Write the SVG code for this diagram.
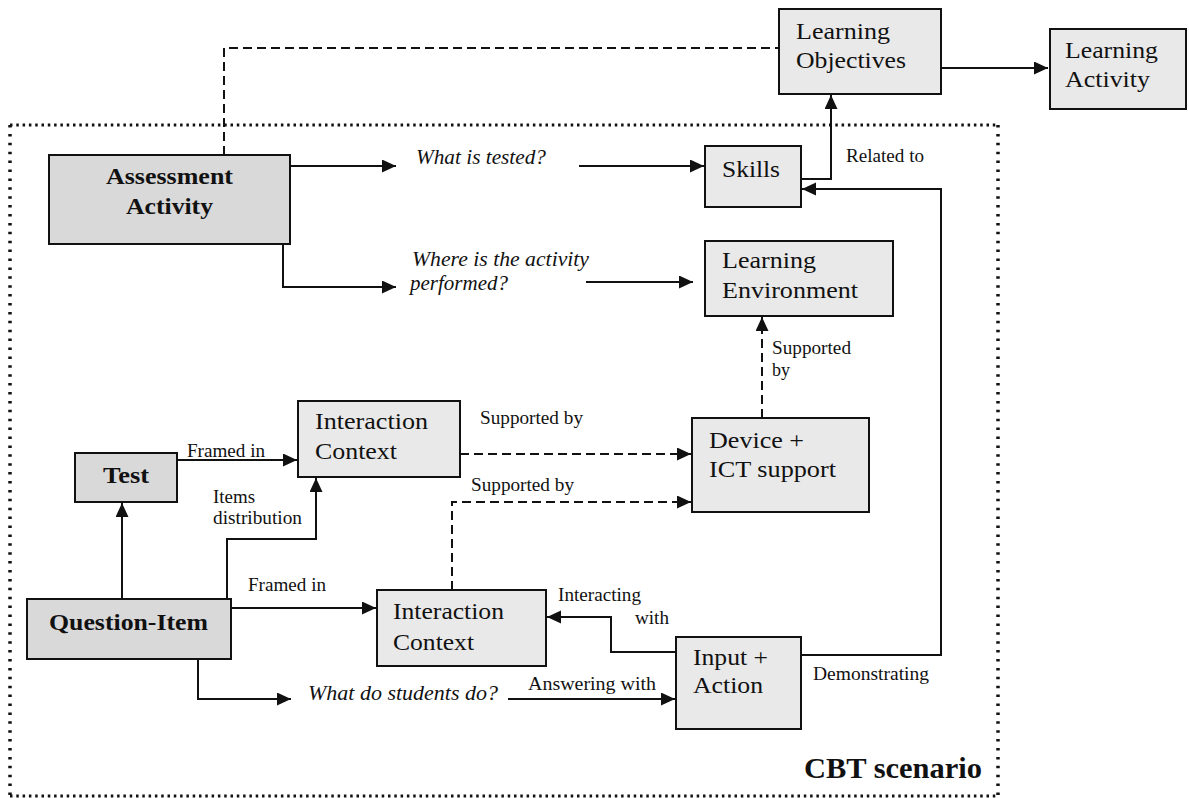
<svg xmlns="http://www.w3.org/2000/svg" width="1189" height="798" viewBox="0 0 1189 798">
<style>
.box{stroke:#111;stroke-width:2}
.dark{fill:#d9d9d9}
.light{fill:#e9e9e9}
.t{font-family:"Liberation Serif","Times New Roman",serif;fill:#111}
.lb{font-size:24px}
.bb{font-size:24px;font-weight:bold}
.sm{font-size:18px}
.it{font-size:21px;font-style:italic}
.c{fill:none;stroke:#111;stroke-width:2}
.d{stroke-dasharray:9 5}
.dotH{fill:none;stroke:#111;stroke-width:3;stroke-dasharray:2.5 3.8}
.dotV{fill:none;stroke:#111;stroke-width:3.5;stroke-dasharray:2.5 6.4}
</style>
<defs>
<marker id="ah" markerUnits="userSpaceOnUse" markerWidth="15" markerHeight="14" refX="14" refY="6.5" orient="auto">
<path d="M0,0 L14,6.5 L0,13 Z" fill="#111"/>
</marker>
</defs>
<rect width="1189" height="798" fill="#fff"/>
<g id="frame">
<line class="dotH" x1="10" y1="125" x2="998" y2="125"/>
<line class="dotH" x1="10" y1="796" x2="998" y2="796"/>
<line class="dotV" x1="10" y1="125" x2="10" y2="796"/>
<line class="dotV" x1="998" y1="125" x2="998" y2="796"/>
<text class="t" x="804" y="778" font-size="30" font-weight="bold" textLength="178" lengthAdjust="spacingAndGlyphs">CBT scenario</text>
</g>
<g id="connectors">
<polyline class="c d" points="224,155 224,48 779,48"/>
<line class="c" x1="941" y1="68" x2="1048" y2="68" marker-end="url(#ah)"/>
<line class="c" x1="290" y1="166" x2="396" y2="166" marker-end="url(#ah)"/>
<line class="c" x1="579" y1="166" x2="704" y2="166" marker-end="url(#ah)"/>
<polyline class="c" points="801,179 831,179 831,95" marker-end="url(#ah)"/>
<polyline class="c" points="801,655 941,655 941,189 802,189" marker-end="url(#ah)"/>
<polyline class="c" points="283,244 283,287 396,287" marker-end="url(#ah)"/>
<line class="c" x1="586" y1="282" x2="693" y2="282" marker-end="url(#ah)"/>
<line class="c d" x1="762" y1="418" x2="762" y2="317" marker-end="url(#ah)"/>
<line class="c" x1="177" y1="460" x2="297" y2="460" marker-end="url(#ah)"/>
<line class="c" x1="122" y1="599" x2="122" y2="503" marker-end="url(#ah)"/>
<polyline class="c" points="227,599 227,539 316,539 316,478" marker-end="url(#ah)"/>
<line class="c" x1="231" y1="608" x2="376" y2="608" marker-end="url(#ah)"/>
<line class="c d" x1="460" y1="454" x2="691" y2="454" marker-end="url(#ah)"/>
<polyline class="c d" points="452,590 452,502 691,502" marker-end="url(#ah)"/>
<polyline class="c" points="676,652 611,652 611,617 547,617" marker-end="url(#ah)"/>
<polyline class="c" points="198,659 198,699 291,699" marker-end="url(#ah)"/>
<line class="c" x1="508" y1="699" x2="675" y2="699" marker-end="url(#ah)"/>
</g>
<g id="connector-labels">
<text class="t it" x="416" y="164" textLength="130" lengthAdjust="spacingAndGlyphs">What is tested?</text>
<text class="t it" x="412" y="266" textLength="177" lengthAdjust="spacingAndGlyphs">Where is the activity</text>
<text class="t it" x="410" y="290" textLength="98" lengthAdjust="spacingAndGlyphs">performed?</text>
<text class="t it" x="308" y="700" textLength="190" lengthAdjust="spacingAndGlyphs">What  do students do?</text>
<text class="t sm" x="846" y="162" textLength="78" lengthAdjust="spacingAndGlyphs">Related to</text>
<text class="t sm" x="772" y="354" textLength="79" lengthAdjust="spacingAndGlyphs">Supported</text>
<text class="t sm" x="772" y="376" textLength="18" lengthAdjust="spacingAndGlyphs">by</text>
<text class="t sm" x="187" y="457" textLength="78" lengthAdjust="spacingAndGlyphs">Framed in</text>
<text class="t sm" x="213" y="503" textLength="42" lengthAdjust="spacingAndGlyphs">Items</text>
<text class="t sm" x="213" y="524" textLength="89" lengthAdjust="spacingAndGlyphs">distribution</text>
<text class="t sm" x="248" y="591" textLength="78" lengthAdjust="spacingAndGlyphs">Framed in</text>
<text class="t sm" x="480" y="424" textLength="103" lengthAdjust="spacingAndGlyphs">Supported by</text>
<text class="t sm" x="471" y="491" textLength="103" lengthAdjust="spacingAndGlyphs">Supported by</text>
<text class="t sm" x="558" y="601" textLength="83" lengthAdjust="spacingAndGlyphs">Interacting</text>
<text class="t sm" x="635" y="624" textLength="34" lengthAdjust="spacingAndGlyphs">with</text>
<text class="t sm" x="528" y="690" textLength="128" lengthAdjust="spacingAndGlyphs">Answering  with</text>
<text class="t sm" x="813" y="680" textLength="116" lengthAdjust="spacingAndGlyphs">Demonstrating</text>
</g>
<g id="assessment-activity">
<rect class="box dark" x="49" y="155" width="241" height="89"/>
<text class="t bb" x="106" y="184" textLength="127" lengthAdjust="spacingAndGlyphs">Assessment</text>
<text class="t bb" x="126" y="214" textLength="87" lengthAdjust="spacingAndGlyphs">Activity</text>
</g>
<g id="learning-objectives">
<rect class="box light" x="779" y="9" width="162" height="85"/>
<text class="t lb" x="796" y="39" textLength="94" lengthAdjust="spacingAndGlyphs">Learning</text>
<text class="t lb" x="796" y="68" textLength="110" lengthAdjust="spacingAndGlyphs">Objectives</text>
</g>
<g id="learning-activity">
<rect class="box light" x="1050" y="29" width="136" height="80"/>
<text class="t lb" x="1065" y="58" textLength="93" lengthAdjust="spacingAndGlyphs">Learning</text>
<text class="t lb" x="1065" y="87" textLength="85" lengthAdjust="spacingAndGlyphs">Activity</text>
</g>
<g id="skills">
<rect class="box light" x="705" y="146" width="96" height="61"/>
<text class="t lb" x="722" y="177" textLength="58" lengthAdjust="spacingAndGlyphs">Skills</text>
</g>
<g id="learning-environment">
<rect class="box light" x="705" y="241" width="188" height="75"/>
<text class="t lb" x="722" y="268" textLength="94" lengthAdjust="spacingAndGlyphs">Learning</text>
<text class="t lb" x="722" y="298" textLength="136" lengthAdjust="spacingAndGlyphs">Environment</text>
</g>
<g id="device-ict">
<rect class="box light" x="692" y="418" width="177" height="94"/>
<text class="t lb" x="709" y="448" textLength="95" lengthAdjust="spacingAndGlyphs">Device +</text>
<text class="t lb" x="709" y="477" textLength="127" lengthAdjust="spacingAndGlyphs">ICT support</text>
</g>
<g id="interaction-context-1">
<rect class="box light" x="298" y="401" width="162" height="76"/>
<text class="t lb" x="315" y="429" textLength="113" lengthAdjust="spacingAndGlyphs">Interaction</text>
<text class="t lb" x="315" y="459" textLength="82" lengthAdjust="spacingAndGlyphs">Context</text>
</g>
<g id="test">
<rect class="box dark" x="75" y="453" width="102" height="49"/>
<text class="t bb" x="103" y="483" textLength="46" lengthAdjust="spacingAndGlyphs">Test</text>
</g>
<g id="question-item">
<rect class="box dark" x="27" y="599" width="204" height="60"/>
<text class="t bb" x="49" y="630" textLength="159" lengthAdjust="spacingAndGlyphs">Question-Item</text>
</g>
<g id="interaction-context-2">
<rect class="box light" x="377" y="590" width="169" height="76"/>
<text class="t lb" x="393" y="619" textLength="111" lengthAdjust="spacingAndGlyphs">Interaction</text>
<text class="t lb" x="393" y="650" textLength="81" lengthAdjust="spacingAndGlyphs">Context</text>
</g>
<g id="input-action">
<rect class="box light" x="676" y="637" width="125" height="92"/>
<text class="t lb" x="693" y="665" textLength="75" lengthAdjust="spacingAndGlyphs">Input +</text>
<text class="t lb" x="693" y="693" textLength="70" lengthAdjust="spacingAndGlyphs">Action</text>
</g>
</svg>
